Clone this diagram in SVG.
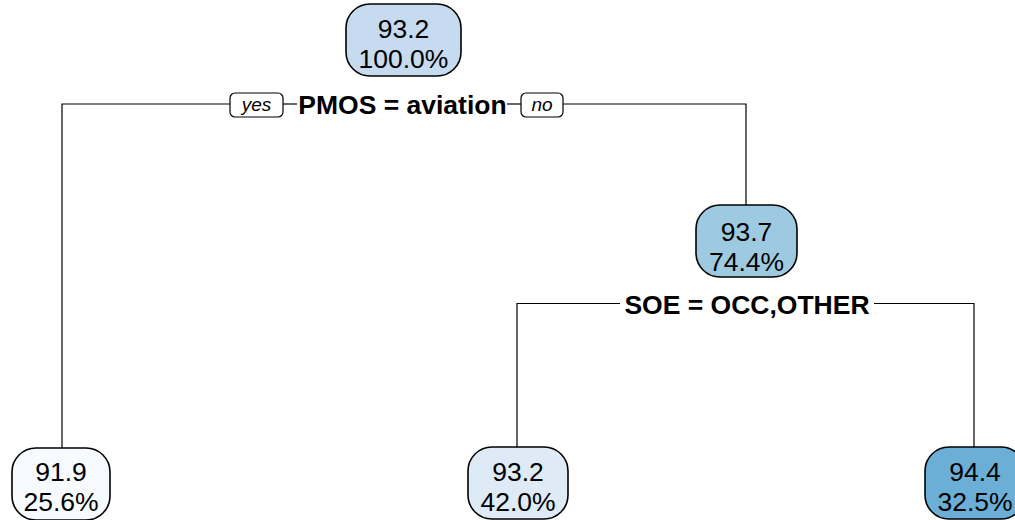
<svg xmlns="http://www.w3.org/2000/svg" width="1015" height="520" viewBox="0 0 1015 520">
<style>
.node{stroke:#000;stroke-width:1.6}
.nt{font-family:"Liberation Sans",Arial,sans-serif;font-size:26.5px;text-anchor:middle;fill:#000}
.split{font-family:"Liberation Sans",Arial,sans-serif;font-size:26.5px;font-weight:bold;text-anchor:middle;fill:#000}
.yn{font-family:"Liberation Sans",Arial,sans-serif;font-size:19px;font-style:italic;text-anchor:middle;fill:#000}
.ln{stroke:#000;stroke-width:1.2;fill:none}
</style>
<rect width="1015" height="520" fill="#fff"/>
<g id="connectors">
<path class="ln" d="M62,448 V104 H230"/>
<path class="ln" d="M283,104 H297"/>
<path class="ln" d="M507,104 H521"/>
<path class="ln" d="M563,104 H746 V205"/>
<path class="ln" d="M517,447 V303.5 H620"/>
<path class="ln" d="M874,303.5 H974 V447"/>
<rect x="230" y="93" width="53" height="24" rx="5" fill="#fff" stroke="#000" stroke-width="1.2"/>
<text class="yn" x="256.5" y="111">yes</text>
<rect x="521" y="93" width="42" height="24" rx="5" fill="#fff" stroke="#000" stroke-width="1.2"/>
<text class="yn" x="542" y="111">no</text>
<text class="split" x="402.5" y="114">PMOS = aviation</text>
<text class="split" x="747" y="314">SOE = OCC,OTHER</text>
</g>
<g id="n1">
<rect class="node" x="346" y="4" width="115" height="72" rx="24" fill="#c6dbef"/>
<text class="nt" x="403.5" y="38">93.2</text>
<text class="nt" x="403.5" y="68">100.0%</text>
</g>
<g id="n3">
<rect class="node" x="696" y="205" width="101" height="72" rx="24" fill="#9ecae1"/>
<text class="nt" x="746.5" y="241">93.7</text>
<text class="nt" x="746.5" y="271">74.4%</text>
</g>
<g id="n2">
<rect class="node" x="12" y="448" width="98" height="72" rx="24" fill="#f7fbff"/>
<text class="nt" x="61" y="481">91.9</text>
<text class="nt" x="61" y="511">25.6%</text>
</g>
<g id="n6">
<rect class="node" x="468" y="447" width="100" height="72" rx="24" fill="#deebf7"/>
<text class="nt" x="518" y="481">93.2</text>
<text class="nt" x="518" y="511">42.0%</text>
</g>
<g id="n7">
<rect class="node" x="925" y="447" width="100" height="72" rx="24" fill="#6baed6"/>
<text class="nt" x="975" y="481">94.4</text>
<text class="nt" x="975" y="511">32.5%</text>
</g>
</svg>
